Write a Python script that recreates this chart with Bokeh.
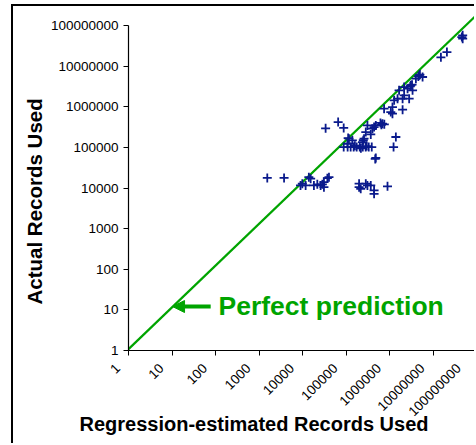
import math
from bokeh.plotting import figure
from bokeh.models import (Label, Arrow, NormalHead, FixedTicker, PrintfTickFormatter,
                          CustomJSTickFormatter, Range1d, Title)
from bokeh.embed import file_html
from bokeh.resources import INLINE

# ---- data ----
est_records = [
    1550, 3770, 9000, 11800, 14000, 15400, 9900, 18300, 21900, 26100, 28600, 31100, 37300, 40600, 31100,
    200000, 218000, 285000, 311000, 371000, 442000, 442000, 900000, 200000,
    484000, 470000,
    34000, 66000, 88500, 117000, 112000, 140000, 108000,
    88500, 109000, 128000, 150000, 176000, 207000, 243000, 284000, 333000, 391000, 160000, 220000, 300000,
    260000, 239000, 250000, 371000,
    311000, 442000, 690000, 620000, 760000, 650000, 285000, 406000, 484000,
    1400000, 1240000, 1070000,
    751000, 1170000, 2000000, 1170000, 1280000, 1530000, 2000000, 2170000, 2830000,
    1660000, 2170000, 2600000, 3100000, 3000000, 3300000, 3390000,
    4810000, 4600000, 5000000, 5760000, 4040000,
    15200000, 20900000, 48100000, 48100000, 46000000,
]
actual_records = [
    17700, 17700, 11600, 11600, 18500, 17000, 12800, 11600, 12300, 11600, 12300, 14000, 17500, 18500, 10500,
    12800, 9600, 12800, 11600, 11600, 8700, 7200, 11000, 10500,
    55000, 52000,
    294000, 420000, 302000, 164000, 170000, 149000, 123000,
    102000, 102000, 102000, 102000, 102000, 102000, 102000, 102000, 102000, 102000, 110000, 95000, 108000,
    164000, 135000, 150000, 209000,
    348000, 316000, 384000, 400000, 370000, 360000, 238000, 289000, 348000,
    180000, 102000, 741000,
    898000, 984000, 849000, 676000, 1440000, 1580000, 1580000, 1910000, 1580000,
    2540000, 3050000, 2790000, 3370000, 3200000, 3500000, 2540000,
    5930000, 5600000, 6200000, 5400000, 4920000,
    16500000, 22200000, 57400000, 47500000, 52000000,
]
perfect_x = [1, 1e8]
perfect_y = [1.08, 1.8e8]
decade_ticks = [1, 10, 100, 1000, 10000, 100000, 1000000, 10000000, 100000000]

GREEN = "#00a400"
BLUE = "#0a1a8c"
FONT = "Liberation Sans"

p = figure(width=463, height=439, x_axis_type="log", y_axis_type="log",
           x_range=Range1d(1, 1e8), y_range=Range1d(1, 10 ** 8.37),
           output_backend="svg", toolbar_location=None,
           min_border_left=115, min_border_right=0, min_border_top=4, min_border_bottom=95)
p.styles = {"border-left": "2px solid black", "border-top": "2px solid black",
            "margin-left": "11px", "margin-top": "4px"}
p.xgrid.visible = False
p.ygrid.visible = False
p.outline_line_color = None
p.background_fill_color = "white"
p.border_fill_color = "white"

for ax in (p.xaxis[0], p.yaxis[0]):
    ax.ticker = FixedTicker(ticks=decade_ticks)
    ax.minor_tick_line_color = None
    ax.major_tick_in = 0
    ax.major_tick_out = 5
    ax.axis_line_color = "black"
    ax.axis_line_width = 1.2
    ax.major_tick_line_color = "black"
    ax.major_label_text_font = FONT
    ax.major_label_text_font_size = "13.5px"
    ax.major_label_text_color = "black"
    ax.bounds = (1, 1e8)

p.yaxis.formatter = PrintfTickFormatter(format="%d")
p.yaxis.major_label_standoff = 5
p.xaxis.formatter = CustomJSTickFormatter(code="return Math.round(tick).toString() + '\\u00a0\\u00a0\\u00a0\\u00a0';")
p.xaxis.major_label_orientation = math.pi / 4
p.xaxis.major_label_standoff = 0

p.line(perfect_x, perfect_y, line_color=GREEN, line_width=2.2)
p.scatter(est_records, actual_records, marker="cross", size=9, line_width=1.8, line_color=BLUE)

p.add_layout(Arrow(end=NormalHead(size=12, fill_color=GREEN, line_color=GREEN),
                   x_start=77.5, y_start=12.1, x_end=10.3, y_end=12.1,
                   line_color=GREEN, line_width=4))
p.add_layout(Label(x=90, y=45, x_units="screen", y_units="screen", text="Perfect prediction",
                   text_font=FONT, text_font_style="bold", text_font_size="26.5px",
                   text_color=GREEN, text_baseline="alphabetic", text_align="left"))

p.add_layout(Title(text="Regression-estimated Records Used", align="left", offset=-49,
                   text_font=FONT, text_font_style="bold", text_font_size="20px",
                   text_color="black", standoff=-30, vertical_align="top"), "below")
p.add_layout(Title(text="Actual Records Used", align="left", offset=46,
                   text_font=FONT, text_font_style="bold", text_font_size="20.5px",
                   text_color="black", standoff=4), "left")

open("out.html", "w").write(file_html(p, INLINE))
